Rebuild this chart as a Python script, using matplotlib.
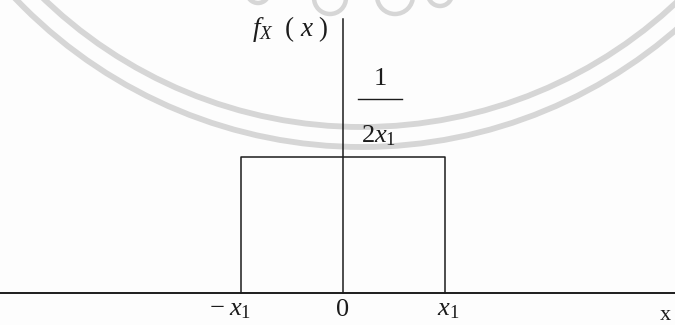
import matplotlib
matplotlib.use("Agg")
import matplotlib.pyplot as plt
from matplotlib.patches import Circle

plt.rcParams["mathtext.fontset"] = "custom"
plt.rcParams["mathtext.rm"] = "Liberation Serif"
plt.rcParams["mathtext.it"] = "Liberation Serif:italic"
plt.rcParams["font.family"] = ["Liberation Serif", "DejaVu Serif"]

# uniform density on [-x1, x1]
x1 = 1.0
support = [-x1, -x1, x1, x1]
density = [0.0, 1.0 / (2 * x1), 1.0 / (2 * x1), 0.0]

W, H = 675, 325
INK = "#1c1c1c"
SEAL = "#d6d6d6"

fig = plt.figure(figsize=(W / 100, H / 100), dpi=100)
fig.patch.set_facecolor("#fdfdfd")

# background seal, drawn in pixel units
bg = fig.add_axes([0, 0, 1, 1], zorder=0)
bg.set_xlim(0, W)
bg.set_ylim(H, 0)
bg.axis("off")
for r in (459, 479):
    bg.add_patch(Circle((362, -332), r, fill=False, lw=4.2, ec=SEAL))
for cx, cy, r in [(330, -2, 16), (395, -4, 18), (258, -8, 11), (440, -6, 12)]:
    bg.add_patch(Circle((cx, cy), r, fill=False, lw=3.2, ec=SEAL))

# main plot in data units
ax = fig.add_axes([0, 0, 1, 1], zorder=1)
ax.patch.set_alpha(0)
ax.set_xlim(-343 / 102, 332 / 102)
ax.set_ylim(-32 / 272, 293 / 272)
ax.axis("off")

ax.axhline(0, color=INK, lw=1.4)
ax.plot([0, 0], [0, 1.007], color=INK, lw=1.1)
ax.plot(support, density, color=INK, lw=1.1)

# labels
ax.text(-0.52, 0.97, r"$f_{X}\ \ (\ x\ )$", fontsize=19.5, ha="center", va="center", color=INK)
ax.text(0.37, 0.785, "1", fontsize=19, ha="center", va="center", color=INK)
ax.plot([0.15, 0.58], [0.713, 0.713], color=INK, lw=1.0)
ax.text(0.345, 0.58, r"$2x_{1}$", fontsize=19, ha="center", va="center", color=INK)

ax.text(-x1 - 0.11, -0.063, r"$-\;x_{1}$", fontsize=19, ha="center", va="center", color=INK)
ax.text(0, -0.063, "0", fontsize=19, ha="center", va="center", color=INK)
ax.text(x1 + 0.03, -0.063, r"$x_{1}$", fontsize=19, ha="center", va="center", color=INK)
ax.text(3.16, -0.083, "x", fontsize=16, ha="center", va="center", color=INK)

fig.savefig("out.png", dpi=100, facecolor=fig.get_facecolor())
